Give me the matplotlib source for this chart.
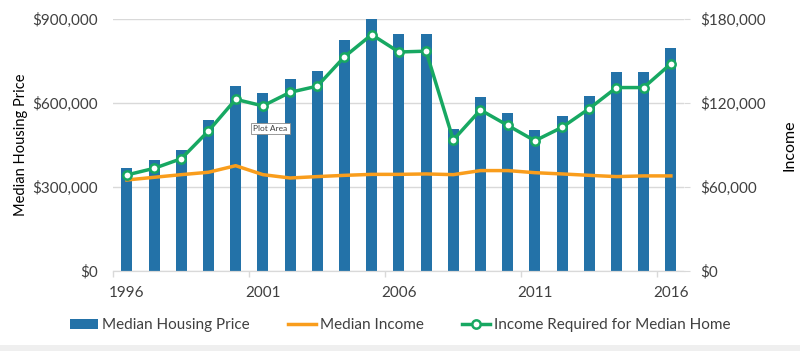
import matplotlib.pyplot as plt
from matplotlib.ticker import FuncFormatter
from matplotlib.patches import Rectangle

plt.rcParams["font.family"] = ["Lato", "DejaVu Sans"]

years = list(range(1996, 2017))
housing_price = [369000, 396000, 432000, 540000, 661000, 637000, 687000, 713000,
                 825000, 900000, 845000, 846000, 506000, 620000, 563000, 504000,
                 554000, 625000, 710000, 710000, 796000]
median_income = [65000, 66900, 68800, 70500, 75200, 68800, 66400, 67400,
                 68300, 69000, 69000, 69300, 68800, 71700, 71700, 70200,
                 69300, 68300, 67400, 67900, 67900]
income_required = [68600, 73300, 80200, 100000, 122600, 117900, 127600, 132000,
                   153000, 168800, 156400, 157000, 93600, 115000, 104000, 93000,
                   102600, 116000, 131000, 131000, 148000]

blue = "#2372A8"
orange = "#F99D1C"
green = "#17A862"
text_color = "#404040"
grid_color = "#D9D9D9"

fig = plt.figure(figsize=(8, 3.51), dpi=100)
ax = fig.add_axes([0.1416, 0.228, 0.714, 0.718])
ax2 = ax.twinx()

x = list(range(len(years)))
bars = ax.bar(x, housing_price, width=0.41, color=blue, label="Median Housing Price", zorder=2)
l1, = ax2.plot(x, median_income, color=orange, linewidth=2.5, label="Median Income", zorder=3)
l2, = ax2.plot(x, income_required, color=green, linewidth=2.5, marker="o", markersize=6,
               markerfacecolor="white", markeredgecolor=green, markeredgewidth=1.8,
               label="Income Required for Median Home", zorder=4)

ax.set_zorder(1)
ax2.set_zorder(2)
ax.patch.set_visible(False)

ax.set_xlim(-0.5, len(years) - 0.5)
ax.set_ylim(0, 900000)
ax2.set_ylim(0, 180000)
ax.set_yticks([0, 300000, 600000, 900000])
ax2.set_yticks([0, 60000, 120000, 180000])
money = FuncFormatter(lambda v, p: f"${v:,.0f}")
ax.yaxis.set_major_formatter(money)
ax2.yaxis.set_major_formatter(money)

label_idx = [0, 5, 10, 15, 20]
ax.set_xticks(label_idx)
ax.set_xticklabels([str(years[i]) for i in label_idx])
ax.set_xticks([i - 0.5 for i in label_idx], minor=True)
ax.tick_params(axis="x", which="major", length=0, pad=11, labelsize=11, labelcolor=text_color)
ax.tick_params(axis="x", which="minor", length=4, color=grid_color, width=1)
ax.tick_params(axis="y", length=0, pad=11, labelsize=11, labelcolor=text_color)
ax2.tick_params(axis="y", length=4, color=grid_color, pad=7, labelsize=11, labelcolor=text_color)

ax.grid(axis="y", color=grid_color, linewidth=1, zorder=0)
ax.set_axisbelow(True)
for a in (ax, ax2):
    for s in ["top", "left", "right"]:
        a.spines[s].set_visible(False)
    a.spines["bottom"].set_color(grid_color)

ax.set_ylabel("Median Housing Price", fontsize=10.5, color="black", labelpad=3)
ax2.set_ylabel("Income", fontsize=11.5, color="black", labelpad=12)

# tooltip left in the screenshot
ax.text(4.65, 510000, "Plot Area", fontsize=6, color=text_color, ha="left", va="center",
        zorder=10, bbox=dict(boxstyle="square,pad=0.25", facecolor="white",
                             edgecolor="#8a8a8a", linewidth=0.6))

fig.legend(handles=[bars, l1, l2], loc="center", bbox_to_anchor=(0.5, 0.073), ncol=3,
           frameon=False, fontsize=11, handlelength=1.85, handletextpad=0.25,
           columnspacing=2.5, labelcolor=text_color)

fig.patches.append(Rectangle((0, 0), 1, 0.017, transform=fig.transFigure,
                             facecolor="#EFEFEF", edgecolor="none"))

fig.savefig("out.png", dpi=100)
